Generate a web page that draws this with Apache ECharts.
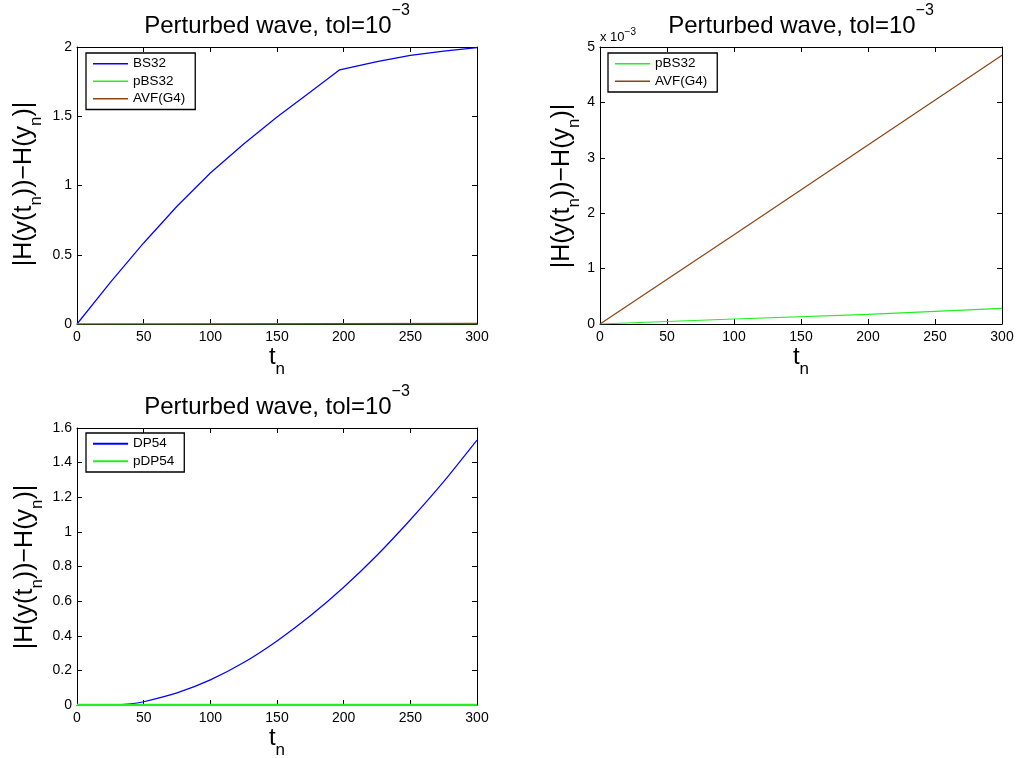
<!DOCTYPE html>
<html><head><meta charset="utf-8">
<script src="https://cdn.jsdelivr.net/npm/echarts@6/dist/echarts.min.js"></script>
<style>html,body{margin:0;padding:0;background:#fff}#c{width:1016px;height:758px}</style>
</head><body><div id="c"></div>
<script>
const FONT = '"Liberation Sans", Arial, Helvetica, sans-serif';

// ---- texts ----
const titleMain = 'Perturbed wave, tol=10';
const titleSup = '−3';
const xLabelMain = 't';
const xLabelSub = 'n';
const yLabelParts = [['|H(y(t', 0], ['n', 1], ['))−H(y', 0], ['n', 1], [')|', 0]];
const expMain = 'x 10';
const expSup = '−3';

// ---- data ----
// panel 1 (top-left)
const bs32T = [0, 25, 50, 75, 100, 125, 150, 175, 197, 225, 250, 275, 300];
const bs32V = [0, 0.30, 0.585, 0.85, 1.09, 1.30, 1.495, 1.675, 1.835, 1.895, 1.94, 1.97, 1.995];
// panels 1 and 2
const pbs32T = [0, 100, 200, 300];
const pbs32V = [0, 0.00009, 0.000175, 0.000283];
const avfT = [0, 100, 200, 300];
const avfV = [0, 0.00161, 0.00323, 0.00485];
// panel 3 (bottom-left)
const dp54T = [0, 20, 30, 40, 50, 75, 100, 125, 150, 175, 200, 225, 250, 275, 300];
const dp54V = [0, 0, 0.001, 0.006, 0.019, 0.07, 0.145, 0.245, 0.37, 0.515, 0.68, 0.865, 1.07, 1.29, 1.53];
const pdp54T = [0, 100, 200, 300];
const pdp54V = [0, 0, 0, 0];

// ---- colours ----
const BLUE = '#0000ff', GREEN = '#22ee22', BROWN = '#8b4513';

const grids = [
  {left: 77, top: 47, width: 400, height: 277},
  {left: 600, top: 47, width: 402, height: 277},
  {left: 77, top: 428, width: 400, height: 277}
];
const yRanges = [
  {min: 0, max: 2, interval: 0.5, fmt: v => String(+v.toFixed(2))},
  {min: 0, max: 0.005, interval: 0.001, fmt: v => String(Math.round(v * 1000))},
  {min: 0, max: 1.6, interval: 0.2, fmt: v => String(+v.toFixed(2))}
];

const xAxes = [], yAxes = [];
grids.forEach((g, i) => {
  ['bottom', 'top'].forEach((pos, k) => {
    xAxes.push({
      gridIndex: i, type: 'value', position: pos, min: 0, max: 300, interval: 50,
      axisLine: {show: true, onZero: false, lineStyle: {color: '#000', width: 1}},
      axisTick: {show: true, inside: true, length: 5, lineStyle: {color: '#000'}},
      axisLabel: {show: k === 0, color: '#000', fontSize: 14, fontFamily: FONT, margin: 6},
      splitLine: {show: false}
    });
  });
  ['left', 'right'].forEach((pos, k) => {
    const r = yRanges[i];
    yAxes.push({
      gridIndex: i, type: 'value', position: pos, min: r.min, max: r.max, interval: r.interval,
      axisLine: {show: true, onZero: false, lineStyle: {color: '#000', width: 1}},
      axisTick: {show: true, inside: true, length: 5, lineStyle: {color: '#000'}},
      axisLabel: {show: k === 0, color: '#000', fontSize: 14, fontFamily: FONT, margin: 5, formatter: r.fmt},
      splitLine: {show: false}
    });
  });
});

function pairs(t, v) { return t.map((x, i) => [x, v[i]]); }
function line(name, t, v, color, gi, width, smooth) {
  return {
    name, type: 'line', xAxisIndex: gi * 2, yAxisIndex: gi * 2, data: pairs(t, v),
    symbol: 'none', smooth: smooth || false, clip: true,
    lineStyle: {color, width: width || 1.2}, itemStyle: {color}
  };
}
const series = [
  line('BS32', bs32T, bs32V, BLUE, 0, 1.2),
  line('pBS32', pbs32T, pbs32V, GREEN, 0),
  line('AVF(G4)', avfT, avfV, BROWN, 0),
  line('pBS32', pbs32T, pbs32V, GREEN, 1),
  line('AVF(G4)', avfT, avfV, BROWN, 1),
  line('DP54', dp54T, dp54V, BLUE, 2, 1.2, 0.2),
  line('pDP54', pdp54T, pdp54V, GREEN, 2, 2.5)
];

function legend(data, left, top, padRight, ih) {
  return {
    data, left, top, orient: 'vertical', icon: 'rect', itemWidth: 35, itemHeight: ih, itemGap: 0,
    padding: [2, padRight, 2, 7], borderColor: '#000', borderWidth: 1.3, borderRadius: 0,
    backgroundColor: '#fff', selectedMode: false,
    textStyle: {fontSize: 13.5, lineHeight: 17.5, color: '#000', fontFamily: FONT, padding: [0, 0, 0, 0]}
  };
}

// text run helper (measure with canvas)
const ctx = document.createElement('canvas').getContext('2d');
function tw(s, size) { ctx.font = size + 'px ' + FONT; return ctx.measureText(s).width; }
function run(parts, x, y, rotation, align) {
  const total = parts.reduce((a, p) => a + tw(p.text, p.size), 0);
  let cx = align === 'left' ? 0 : -total / 2;
  const children = [];
  parts.forEach(p => {
    children.push({
      type: 'text', x: cx, y: p.dy - 0.32 * p.size,
      style: {text: p.text, font: p.size + 'px ' + FONT, fill: '#000', textAlign: 'left', textVerticalAlign: 'middle'}
    });
    cx += tw(p.text, p.size);
  });
  return {type: 'group', x, y, rotation: rotation || 0, children, silent: true};
}
const graphics = [];
grids.forEach((g, i) => {
  const cx = g.left + g.width / 2;
  const base = g.top - 13;
  graphics.push(run([{text: titleMain, size: 24, dy: 0}, {text: titleSup, size: 16, dy: -18}], cx, base));
  graphics.push(run([{text: xLabelMain, size: 24, dy: 0}, {text: xLabelSub, size: 17, dy: 10}], cx, g.top + g.height + 41));
});
const yLabX = [32, 570, 33];
const yLabY = [184, 186, 567];
grids.forEach((g, i) => {
  graphics.push(run(yLabelParts.map(p => ({text: p[0], size: p[1] ? 17 : 25, dy: p[1] ? 10 : 0})),
    yLabX[i], yLabY[i], Math.PI / 2));
});
graphics.push(run([{text: expMain, size: 13, dy: 0}, {text: expSup, size: 10, dy: -7}], 600, 42, 0, 'left'));

const chart = echarts.init(document.getElementById('c'), null, {renderer: 'canvas'});
chart.setOption({
  animation: false,
  backgroundColor: '#fff',
  grid: grids.map(g => Object.assign({containLabel: false, outerBoundsMode: 'none'}, g)),
  xAxis: xAxes,
  yAxis: yAxes,
  legend: [
    legend(['BS32', 'pBS32', 'AVF(G4)'], 86, 53, 10, 1.3),
    legend(['pBS32', 'AVF(G4)'], 608, 53, 10, 1.3),
    legend(['DP54', 'pDP54'], 86, 433, 10, 1.8)
  ],
  series,
  graphic: graphics
});
</script>
</body></html>
